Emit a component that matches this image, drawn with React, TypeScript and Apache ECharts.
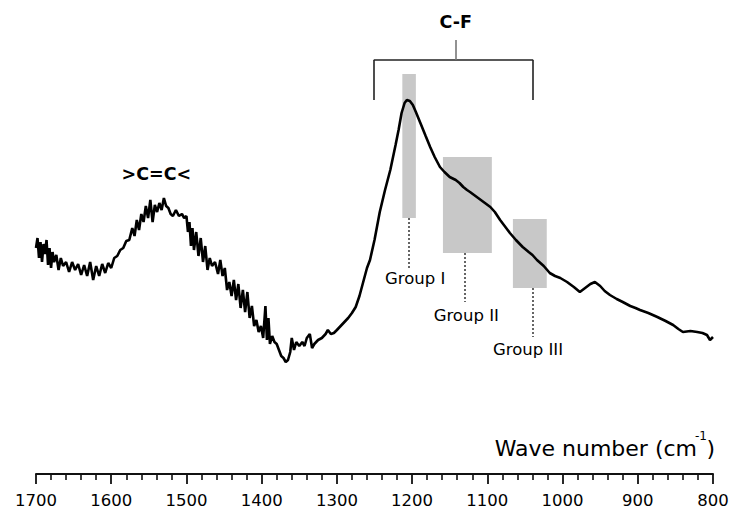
import React, { useEffect, useRef } from "react";
import * as echarts from "echarts";

// Spectrum: wavenumber (cm-1) and absorbance (arbitrary units)
const wavenumbers = [
  1700, 1698, 1696, 1694, 1692, 1690, 1688, 1686, 1684, 1682, 1680, 1678, 1676, 1673, 1670, 1667, 1664, 1660, 1656, 1652,
  1648, 1644, 1640, 1636, 1632, 1628, 1624, 1620, 1616, 1612, 1608, 1604, 1600, 1596, 1592, 1588, 1584, 1580, 1576, 1572,
  1569, 1566, 1563, 1560, 1557, 1554, 1551, 1548, 1545, 1542, 1539, 1536, 1533, 1530, 1527, 1524, 1521, 1518, 1514, 1510,
  1506, 1503, 1500, 1498, 1496, 1494, 1492, 1490, 1487, 1484, 1481, 1478, 1475, 1472, 1469, 1466, 1462, 1458, 1455, 1452,
  1449, 1446, 1443, 1440, 1437, 1434, 1431, 1428, 1425, 1422, 1419, 1416, 1413, 1410, 1407, 1404, 1401, 1398, 1395, 1393,
  1391, 1389, 1386, 1383, 1380, 1377, 1374, 1371, 1368, 1365, 1362, 1360, 1357, 1354, 1350, 1346, 1343, 1340, 1336, 1333,
  1330, 1325, 1320, 1315, 1312, 1308, 1304, 1300, 1295, 1290, 1285, 1280, 1275, 1270, 1265, 1260, 1256, 1250, 1243, 1236,
  1229, 1222, 1218, 1214, 1210, 1207, 1203, 1199, 1195, 1189, 1182, 1176, 1170, 1163, 1157, 1150, 1142, 1137, 1132, 1127,
  1123, 1114, 1105, 1096, 1090, 1083, 1076, 1070, 1062, 1053, 1045, 1040, 1034, 1025, 1017, 1010, 1003, 994, 985, 977,
  970, 963, 957, 950, 944, 937, 928, 920, 910, 903, 897, 886, 880, 874, 863, 853, 846, 840, 830, 821,
  814, 808, 804, 800,
];
const absorbance = [
  226, 236, 216, 232, 212, 230, 220, 234, 209, 226, 206, 222, 212, 219, 204, 216, 208, 212, 202, 212,
  204, 210, 199, 209, 198, 212, 194, 208, 198, 210, 201, 211, 206, 216, 218, 224, 226, 233, 234, 246,
  238, 254, 244, 260, 252, 268, 256, 274, 252, 269, 262, 271, 264, 276, 268, 266, 260, 258, 264, 258,
  260, 256, 258, 242, 252, 228, 246, 224, 242, 218, 236, 212, 228, 204, 216, 208, 212, 200, 214, 198,
  206, 184, 192, 178, 194, 174, 190, 166, 184, 162, 182, 156, 168, 148, 154, 142, 148, 136, 168, 134,
  156, 130, 138, 132, 130, 124, 118, 116, 112, 114, 122, 136, 124, 132, 128, 132, 128, 136, 140, 126,
  130, 134, 136, 140, 144, 140, 141, 144, 148, 152, 156, 161, 167, 178, 192, 206, 214, 234, 262, 284,
  304, 329, 344, 361, 371, 374, 373, 369, 362, 351, 338, 327, 317, 307, 302, 297, 294, 291, 287, 284,
  282, 277, 272, 267, 262, 254, 247, 241, 234, 227, 222, 219, 214, 208, 201, 198, 196, 192, 187, 182,
  186, 190, 192, 188, 183, 179, 175, 172, 168, 166, 164, 161, 159, 157, 153, 149, 145, 142, 143, 142,
  141, 139, 134, 137,
];

// Shaded C-F group bands: [from, to] wavenumber and [bottom, top] absorbance
const groupNames = ["Group I", "Group II", "Group III"];
const groupBandX = [[1213, 1195], [1159, 1094], [1066, 1021]];
const groupBandY = [[256, 400], [221, 317], [186, 255]];
const groupLeaderX = [1205, 1130, 1040];
const groupLeaderY = [[256, 206], [221, 172], [186, 137]];
const groupLabelPos = [[1196, 196], [1128, 159], [1046, 125]];

// C-F bracket
const bracketX = [1251, 1039];
const bracketY = [374, 414];
const bracketCenter = [1142, 414, 434];
const peakLabels = [
  { name: "C-F", pos: [1142, 452] },
  { name: ">C=C<", pos: [1540, 300] },
];

const xTicks = { min: 800, max: 1700, interval: 100 };

export default function App() {
  const ref = useRef<HTMLDivElement>(null);
  useEffect(() => {
    document.body.style.margin = "0";
    const chart = echarts.init(ref.current!, null, { renderer: "svg" });
    const font = "'DejaVu Sans', Verdana, sans-serif";
    const spectrum = wavenumbers.map((w, i) => [w, absorbance[i]]);
    const areas = groupBandX.map((bx, i) => [
      { coord: [bx[0], groupBandY[i][1]] },
      { coord: [bx[1], groupBandY[i][0]] },
    ]);
    const leaders = groupLeaderX.map((x, i) => [
      { coord: [x, groupLeaderY[i][0]] },
      { coord: [x, groupLeaderY[i][1]] },
    ]);
    const bracketLines = [
      [{ coord: [bracketX[0], bracketY[0]] }, { coord: [bracketX[0], bracketY[1]] }],
      [{ coord: [bracketX[0], bracketY[1]] }, { coord: [bracketX[1], bracketY[1]] }],
      [{ coord: [bracketX[1], bracketY[1]] }, { coord: [bracketX[1], bracketY[0]] }],
    ];
    const labelData = [
      ...groupNames.map((n, i) => ({ name: n, value: groupLabelPos[i], fs: 16.5, fw: "normal" })),
      ...peakLabels.map((p) => ({ name: p.name, value: p.pos, fs: 17.5, fw: "bold" })),
    ];
    chart.setOption({
      animation: false,
      grid: { left: 36, right: 23, top: 0, bottom: 44 },
      xAxis: {
        type: "value",
        inverse: true,
        min: xTicks.min,
        max: xTicks.max,
        interval: xTicks.interval,
        splitLine: { show: false },
        axisLine: { lineStyle: { color: "#111", width: 2 } },
        axisTick: { length: 10, lineStyle: { color: "#111", width: 1.8 } },
        minorTick: { show: true, splitNumber: 5, length: 6, lineStyle: { color: "#111", width: 1.6 } },
        axisLabel: {
          fontSize: 16.5,
          color: "#000",
          fontFamily: font,
          margin: 18,
          formatter: (v: number) => String(v),
        },
      },
      yAxis: { type: "value", min: 0, max: 474, show: false },
      graphic: [
        {
          type: "text",
          right: 39,
          top: 437,
          style: { text: "Wave number (cm", fontSize: 22, fill: "#000", fontFamily: font },
        },
        {
          type: "text",
          right: 29,
          top: 430,
          style: { text: "-1", fontSize: 12, fill: "#000", fontFamily: font },
        },
        {
          type: "text",
          right: 21,
          top: 437,
          style: { text: ")", fontSize: 22, fill: "#000", fontFamily: font },
        },
      ],
      series: [
        {
          type: "line",
          z: 1,
          data: [],
          markArea: {
            silent: true,
            itemStyle: { color: "#c8c8c8" },
            data: areas,
          },
          markLine: {
            silent: true,
            symbol: "none",
            label: { show: false },
            lineStyle: { type: [2, 2], color: "#333", width: 1.5 },
            data: leaders,
          },
        },
        {
          type: "line",
          z: 1,
          data: [],
          markLine: {
            silent: true,
            symbol: "none",
            label: { show: false },
            lineStyle: { type: "solid", color: "#222", width: 1.6 },
            data: [
              ...bracketLines,
              [
                { coord: [bracketCenter[0], bracketCenter[1]], lineStyle: { color: "#777" } },
                { coord: [bracketCenter[0], bracketCenter[2]] },
              ],
            ],
          },
        },
        {
          type: "line",
          z: 3,
          data: spectrum,
          showSymbol: false,
          symbol: "none",
          lineStyle: { color: "#000", width: 2.6 },
        },
        {
          type: "scatter",
          z: 4,
          symbolSize: 0,
          itemStyle: { opacity: 1 },
          data: labelData.map((d) => ({
            name: d.name,
            value: d.value,
            label: {
              show: true,
              position: "inside",
              formatter: "{b}",
              fontSize: d.fs,
              fontWeight: d.fw,
              color: "#000",
              opacity: 1,
              fontFamily: font,
            },
          })),
        },
      ],
    });
    return () => chart.dispose();
  }, []);
  return <div ref={ref} style={{ width: 736, height: 518 }} />;
}
